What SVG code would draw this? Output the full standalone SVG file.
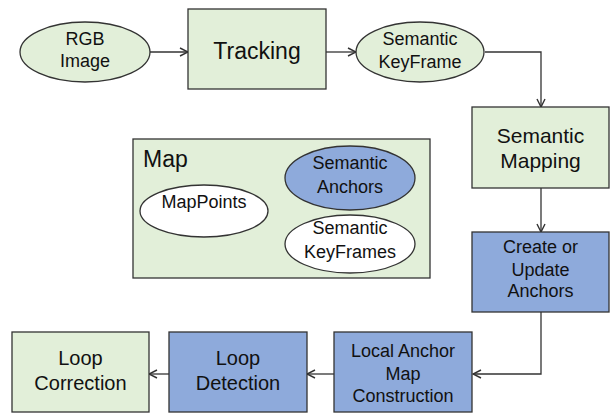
<svg xmlns="http://www.w3.org/2000/svg" width="611" height="415" viewBox="0 0 611 415">
<defs>
<marker id="arr" viewBox="0 0 10 10" refX="9" refY="5" markerWidth="10" markerHeight="10" markerUnits="userSpaceOnUse" orient="auto">
<path d="M1,1 L9,5 L1,9" fill="none" stroke="#333" stroke-width="1.4"/>
</marker>
<style>
.g{fill:#e2efd9;stroke:#333;stroke-width:1.3}
.b{fill:#8eaadb;stroke:#333;stroke-width:1.3}
.w{fill:#fff;stroke:#333;stroke-width:1.3}
text{font-family:"Liberation Sans",Arial,sans-serif;fill:#111;text-anchor:middle}
.s18{font-size:18px}
.s20{font-size:20px}
.s21{font-size:21px}
.s23{font-size:23px}
.c{fill:none;stroke:#333;stroke-width:1.3;marker-end:url(#arr)}
</style>
</defs>
<g id="connectors">
<path class="c" d="M150,52 H188"/>
<path class="c" d="M326,52 H356"/>
<path class="c" d="M485,52 H541 V107"/>
<path class="c" d="M541,188 V232"/>
<path class="c" d="M541,312 V374 H473"/>
<path class="c" d="M334,374 H307"/>
<path class="c" d="M169,374 H149"/>
</g>
<g id="rgb-image">
<ellipse class="g" cx="85" cy="52" rx="65" ry="30"/>
<text class="s18" x="85" y="45">RGB</text>
<text class="s18" x="85" y="67">Image</text>
</g>
<g id="tracking">
<rect class="g" x="188" y="9" width="138" height="80"/>
<text class="s23" x="257" y="59">Tracking</text>
</g>
<g id="semantic-keyframe">
<ellipse class="g" cx="420" cy="52" rx="64" ry="30"/>
<text class="s18" x="420" y="45">Semantic</text>
<text class="s18" x="420" y="68">KeyFrame</text>
</g>
<g id="semantic-mapping">
<rect class="g" x="472" y="107" width="137" height="81"/>
<text class="s21" x="540.5" y="143">Semantic</text>
<text class="s21" x="540.5" y="168">Mapping</text>
</g>
<g id="map">
<rect class="g" x="133" y="139" width="297" height="139"/>
<text x="143" y="167" style="font-size:23px;text-anchor:start">Map</text>
<g id="mappoints">
<ellipse class="w" cx="204" cy="211" rx="64" ry="26"/>
<text class="s18" x="204" y="208">MapPoints</text>
</g>
<g id="semantic-anchors">
<ellipse class="b" cx="350" cy="178" rx="65" ry="32"/>
<text class="s18" x="350" y="169">Semantic</text>
<text class="s18" x="350" y="193">Anchors</text>
</g>
<g id="semantic-keyframes">
<ellipse class="w" cx="350" cy="244" rx="65" ry="29"/>
<text class="s18" x="350" y="234">Semantic</text>
<text class="s18" x="350" y="258">KeyFrames</text>
</g>
</g>
<g id="create-update-anchors">
<rect class="b" x="472" y="232" width="137" height="80"/>
<text class="s18" x="540.5" y="253">Create or</text>
<text class="s18" x="540.5" y="276">Update</text>
<text class="s18" x="540.5" y="297">Anchors</text>
</g>
<g id="local-anchor-map">
<rect class="b" x="334" y="332" width="138" height="80"/>
<text class="s18" x="403" y="357">Local Anchor</text>
<text class="s18" x="403" y="380">Map</text>
<text class="s18" x="403" y="402">Construction</text>
</g>
<g id="loop-detection">
<rect class="b" x="169" y="332" width="138" height="80"/>
<text class="s20" x="238" y="365">Loop</text>
<text class="s20" x="238" y="390">Detection</text>
</g>
<g id="loop-correction">
<rect class="g" x="12" y="332" width="137" height="80"/>
<text class="s20" x="80.5" y="365">Loop</text>
<text class="s20" x="80.5" y="390">Correction</text>
</g>
</svg>
